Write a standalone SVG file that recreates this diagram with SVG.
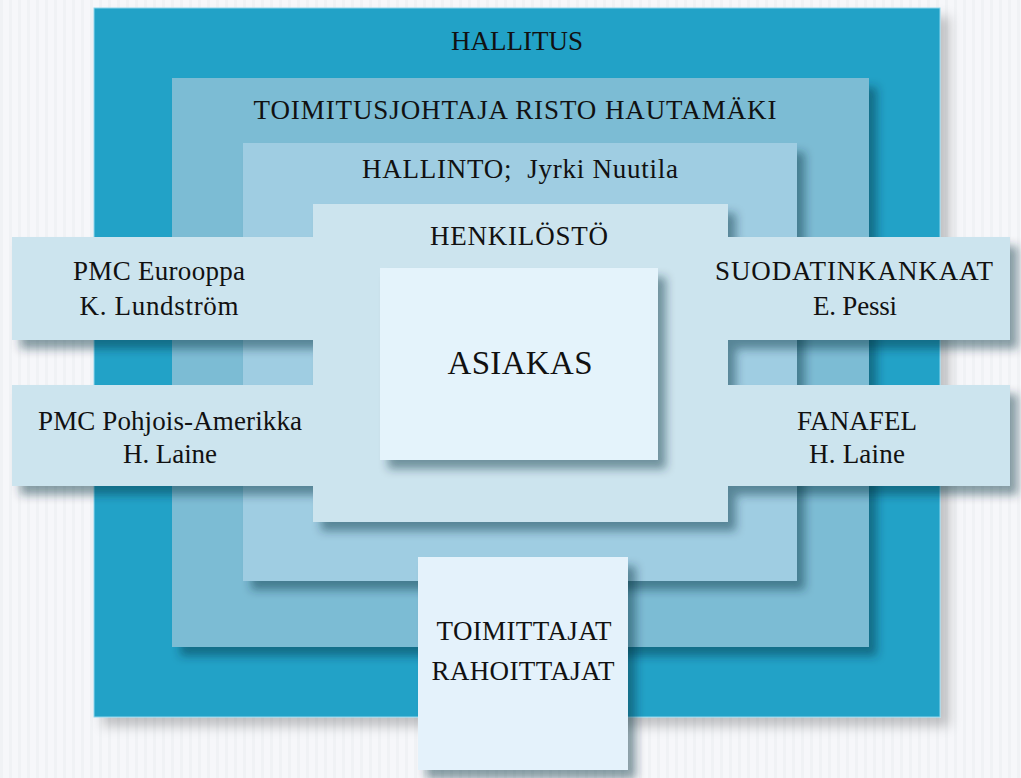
<svg xmlns="http://www.w3.org/2000/svg" width="1021" height="778" viewBox="0 0 1021 778">
<defs>
<pattern id="stripes" width="9" height="10" patternUnits="userSpaceOnUse">
<rect width="9" height="10" fill="#F6F7FA"/>
<rect x="0" width="3" height="10" fill="#F0F2F5"/>
</pattern>
<filter id="sh" x="-10%" y="-10%" width="130%" height="130%">
<feDropShadow dx="8" dy="9" stdDeviation="5" flood-color="#0A2A3A" flood-opacity="0.45"/>
</filter>
<filter id="shOuter" x="-10%" y="-10%" width="130%" height="130%">
<feDropShadow dx="9" dy="9" stdDeviation="6" flood-color="#000" flood-opacity="0.22"/>
</filter>
</defs>
<style>
.t{fill:#111;text-anchor:middle;font-size:27px;font-family:'Liberation Serif','Times New Roman',serif}
.big{font-size:33px}
</style>
<rect width="1021" height="778" fill="url(#stripes)"/>
<g id="hallitus">
<rect x="94" y="8" width="846" height="709" fill="#23A2C7" stroke="#8FD6EC" stroke-width="1" filter="url(#shOuter)"/>
<text class="t" x="517" y="50" textLength="132">HALLITUS</text>
</g>
<g id="toimitusjohtaja">
<rect x="172" y="78" width="697" height="569" fill="#7BBCD4" filter="url(#sh)"/>
<text class="t" x="515" y="119" textLength="523">TOIMITUSJOHTAJA RISTO HAUTAMÄKI</text>
</g>
<g id="hallinto">
<rect x="243" y="143" width="554" height="438" fill="#9FCDE2" filter="url(#sh)"/>
<text class="t" x="520" y="178" textLength="316">HALLINTO;&#160; Jyrki Nuutila</text>
</g>
<g id="henkilosto">
<path d="M313,204 H728 V237 H1010 V340 H728 V385 H1010 V486 H728 V522 H313 V486 H12 V385 H313 V340 H12 V237 H313 Z" fill="#CCE4EE" filter="url(#sh)"/>
<text class="t" x="519" y="245" textLength="178">HENKILÖSTÖ</text>
</g>
<g id="pmc-eurooppa">
<text class="t" x="159" y="280" textLength="172">PMC Eurooppa</text>
<text class="t" x="159" y="315" textLength="159">K. Lundström</text>
</g>
<g id="pmc-pohjois-amerikka">
<text class="t" x="170" y="430" textLength="264">PMC Pohjois-Amerikka</text>
<text class="t" x="170" y="463" textLength="94">H. Laine</text>
</g>
<g id="suodatinkankaat">
<text class="t" x="854" y="280" textLength="278">SUODATINKANKAAT</text>
<text class="t" x="855" y="315" textLength="84">E. Pessi</text>
</g>
<g id="fanafel">
<text class="t" x="857" y="430" textLength="120">FANAFEL</text>
<text class="t" x="857" y="463" textLength="96">H. Laine</text>
</g>
<g id="asiakas">
<rect x="380" y="268" width="278" height="192" fill="#E4F3FB" filter="url(#sh)"/>
<text class="t big" x="520" y="374" textLength="145">ASIAKAS</text>
</g>
<g id="toimittajat">
<rect x="418" y="557" width="210" height="213" fill="#E4F2FB" filter="url(#sh)"/>
<text class="t" x="524" y="640" textLength="175">TOIMITTAJAT</text>
<text class="t" x="523" y="680" textLength="183">RAHOITTAJAT</text>
</g>
<g id="connectors"></g>
</svg>
